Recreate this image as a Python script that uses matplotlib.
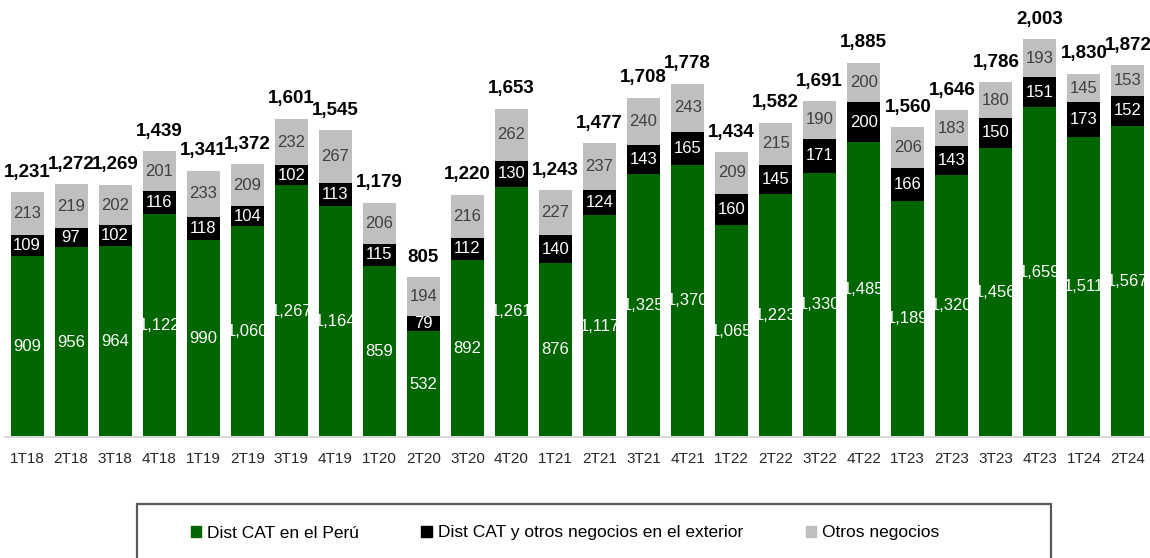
import matplotlib
matplotlib.use("Agg")
import matplotlib.pyplot as plt
from matplotlib.patches import Rectangle, Patch

plt.rcParams['font.family'] = ['Liberation Sans Narrow', 'Liberation Sans', 'DejaVu Sans']

# --- datos ---
trimestres = ["1T18", "2T18", "3T18", "4T18", "1T19", "2T19", "3T19", "4T19",
              "1T20", "2T20", "3T20", "4T20", "1T21", "2T21", "3T21", "4T21",
              "1T22", "2T22", "3T22", "4T22", "1T23", "2T23", "3T23", "4T23",
              "1T24", "2T24"]
peru = [909, 956, 964, 1122, 990, 1060, 1267, 1164, 859, 532, 892, 1261, 876,
        1117, 1325, 1370, 1065, 1223, 1330, 1485, 1189, 1320, 1456, 1659, 1511, 1567]
exterior = [109, 97, 102, 116, 118, 104, 102, 113, 115, 79, 112, 130, 140,
            124, 143, 165, 160, 145, 171, 200, 166, 143, 150, 151, 173, 152]
otros = [213, 219, 202, 201, 233, 209, 232, 267, 206, 194, 216, 262, 227,
         237, 240, 243, 209, 215, 190, 200, 206, 183, 180, 193, 145, 153]
totales = [1231, 1272, 1269, 1439, 1341, 1372, 1601, 1545, 1179, 805, 1220, 1653,
           1243, 1477, 1708, 1778, 1434, 1582, 1691, 1885, 1560, 1646, 1786, 2003,
           1830, 1872]

c_verde = "#006600"
c_negro = "#000000"
c_gris = "#BFBFBF"

W, H = 1150, 558
fig = plt.figure(figsize=(W / 100, H / 100), dpi=100)
ax = fig.add_axes([5 / W, (H - 437) / H, 1145 / W, 437 / H])

x = range(len(trimestres))
ancho = 0.75
b1 = ax.bar(x, peru, width=ancho, color=c_verde)
b2 = ax.bar(x, exterior, width=ancho, bottom=peru, color=c_negro)
base3 = [p + e for p, e in zip(peru, exterior)]
b3 = ax.bar(x, otros, width=ancho, bottom=base3, color=c_gris)

# etiquetas de cada segmento
ax.bar_label(b1, labels=[f"{v:,}" for v in peru], label_type="center",
             color="white", fontsize=12)
ax.bar_label(b2, labels=[f"{v:,}" for v in exterior], label_type="center",
             color="white", fontsize=12)
ax.bar_label(b3, labels=[f"{v:,}" for v in otros], label_type="center",
             color="#404040", fontsize=12)

# totales sobre las barras
for i, t in enumerate(totales):
    ax.annotate(f"{t:,}", (i, t), xytext=(0, 14.4), textcoords="offset points",
                ha="center", va="center", fontsize=13.5, fontweight="bold",
                color="black")

ax.set_xlim(-0.5, len(trimestres) - 0.5)
ax.set_ylim(0, 2200)
ax.set_xticks(list(x))
ax.set_xticklabels(trimestres, fontsize=11, color="#262626")
ax.tick_params(axis="x", length=0, pad=11)
ax.set_yticks([])
for s in ["top", "right", "left"]:
    ax.spines[s].set_visible(False)
ax.spines["bottom"].set_color("#D9D9D9")
ax.spines["bottom"].set_linewidth(1.5)

# recuadro de la leyenda (se sale por abajo)
fig.patches.append(Rectangle((137 / W, -0.05), (1051 - 137) / W, (H - 504) / H + 0.05,
                             transform=fig.transFigure, fill=False,
                             edgecolor="#595959", linewidth=1.6))

handles = [Patch(color=c_verde), Patch(color=c_negro), Patch(color=c_gris)]
nombres = ["Dist CAT en el Perú", "Dist CAT y otros negocios en el exterior",
           "Otros negocios"]
fig.legend(handles, nombres, loc="center", bbox_to_anchor=(565 / W, (H - 533) / H),
           ncol=3, frameon=False, fontsize=12.5, handlelength=0.6,
           handleheight=0.6, handletextpad=0.35, columnspacing=3.6)

fig.savefig("out.png", dpi=100)
